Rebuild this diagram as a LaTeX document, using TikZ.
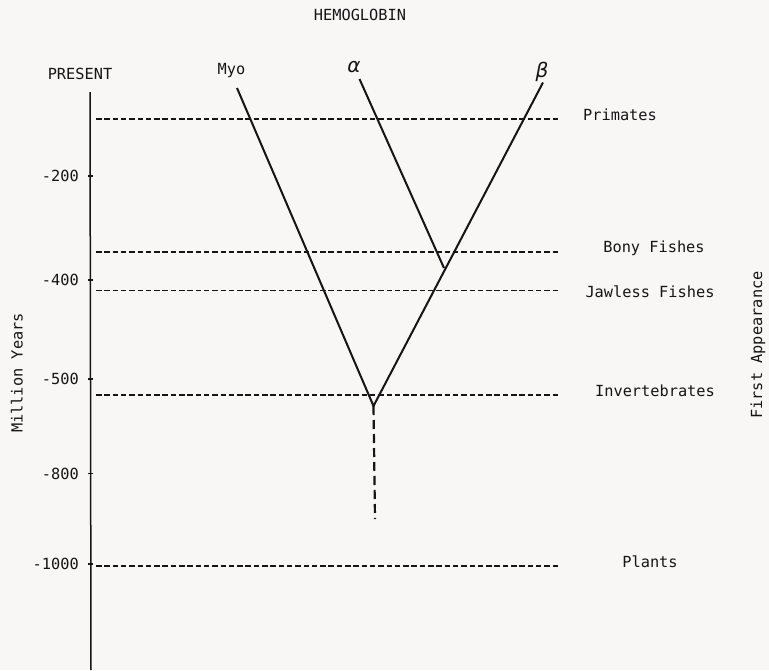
\documentclass[tikz,border=0pt]{standalone}
\usepackage{fontspec}
\setmonofont{DejaVu Sans Mono}
\newfontfamily\greekfont{DejaVu Sans}
\definecolor{ink}{RGB}{22,20,22}
\definecolor{paper}{RGB}{248,247,245}
\begin{document}
\begin{tikzpicture}[x=1pt,y=-1pt,
  lbl/.style={font=\ttfamily\fontsize{15.3}{17}\selectfont, text=ink, inner sep=0pt},
  greek/.style={font=\greekfont\itshape\fontsize{20}{24}\selectfont, text=ink, inner sep=0pt},
  branch/.style={draw=ink, line width=2pt},
  era/.style={draw=ink, line width=1.4pt, dash pattern=on 5.5pt off 2.8pt},
  stem/.style={draw=ink, line width=2.2pt, dash pattern=on 9pt off 5pt},
  axisline/.style={draw=ink, line width=1.5pt},
  tick/.style={draw=ink, line width=1.1pt}]
\useasboundingbox[fill=paper] (0,0) rectangle (769,670);

% titles
\node[lbl] (title) at (360,15) {HEMOGLOBIN};
\node[lbl] (present) at (80,73.5) {PRESENT};
\node[lbl] (myo) at (231.5,71) {Myo};
\node[greek] (alpha) at (354,67) {α};
\node[greek] (beta) at (542,72) {β};

% axis
\coordinate (ax0) at (90,92);
\coordinate (ax1) at (91,670);
\draw[axisline] (ax0) -- (ax1);

% ticks and labels
\foreach \yy/\tx/\nm in {176/-200/t200, 280/-400/t400, 379/-500/t500, 473.5/-800/t800, 564/-1000/t1000}{
  \coordinate (\nm a) at (88,\yy);
  \coordinate (\nm b) at (93,\yy);
  \draw[tick] (\nm a) -- (\nm b);
  \node[lbl, anchor=east] (\nm) at (79,\yy) {\tx};
}

% era lines
\foreach \yy/\nm in {119/prim, 252/bony, 290.5/jaw, 395/inv, 566/pla}{
  \coordinate (\nm L) at (96,\yy);
  \coordinate (\nm R) at (560,\yy);
  \draw[era] (\nm L) -- (\nm R);
}
\node[lbl] (primates) at (620,114.5) {Primates};
\node[lbl] (bonyf) at (654,248) {Bony Fishes};
\node[lbl] (jawless) at (650,292) {Jawless Fishes};
\node[lbl] (invert) at (655,391) {Invertebrates};
\node[lbl] (plants) at (650,562) {Plants};

% side labels
\node[lbl, rotate=90] (myears) at (17,373) {Million Years};
\node[lbl, rotate=90] (firstapp) at (758,345) {First Appearance};

% tree
\coordinate (myotop) at (237,88);
\coordinate (alphatop) at (359.5,79);
\coordinate (betatop) at (543,82.5);
\coordinate (root) at (373.5,406);
\coordinate (ab) at (444,268);
\coordinate (tail) at (375,519);
\draw[branch, line join=miter] (myotop) -- (root) -- (betatop);
\draw[branch] (alphatop) -- (ab);
\draw[stem] (root) -- (tail);
\end{tikzpicture}
\end{document}
